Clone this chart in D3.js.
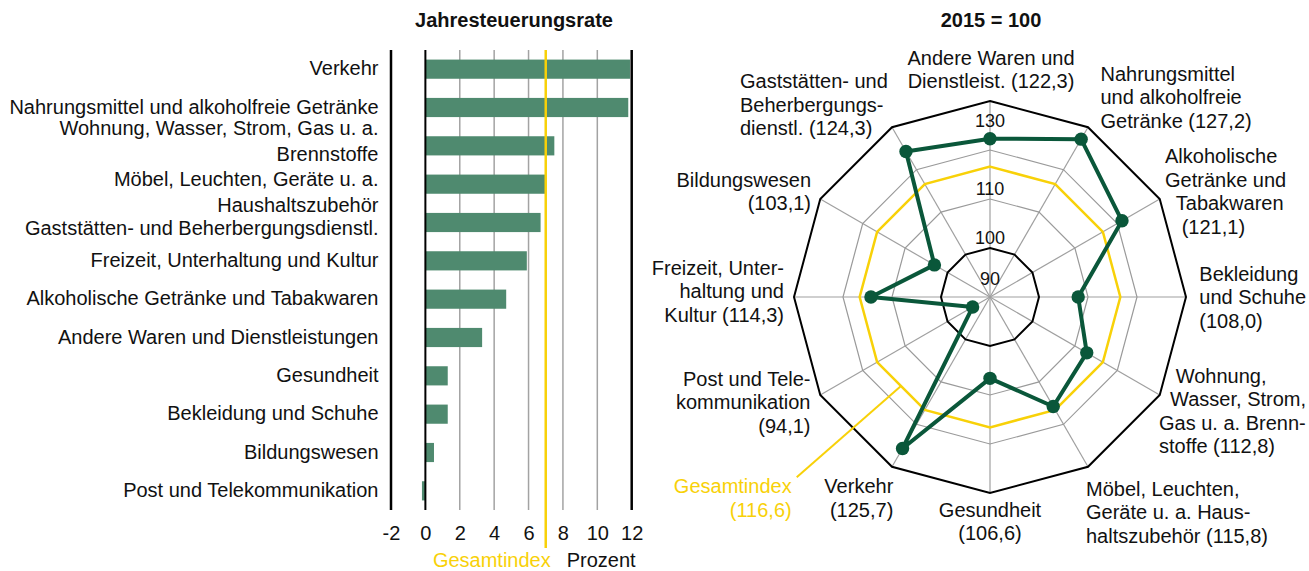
<!DOCTYPE html>
<html>
<head>
<meta charset="utf-8">
<script src="https://cdn.jsdelivr.net/npm/d3@7"></script>
<style>
  body { margin: 0; background: #fff; }
  text { font-family: "Liberation Sans", Arial, sans-serif; fill: #111; }
</style>
</head>
<body>
<script>
// ---- data: Jahresteuerungsrate (Prozent)
let barLabels = [
  ["Verkehr"],
  ["Nahrungsmittel und alkoholfreie Getränke"],
  ["Wohnung, Wasser, Strom, Gas u. a.", "Brennstoffe"],
  ["Möbel, Leuchten, Geräte u. a.", "Haushaltszubehör"],
  ["Gaststätten- und Beherbergungsdienstl."],
  ["Freizeit, Unterhaltung und Kultur"],
  ["Alkoholische Getränke und Tabakwaren"],
  ["Andere Waren und Dienstleistungen"],
  ["Gesundheit"],
  ["Bekleidung und Schuhe"],
  ["Bildungswesen"],
  ["Post und Telekommunikation"]
];
let barValues = [11.9, 11.8, 7.5, 7.0, 6.7, 5.9, 4.7, 3.3, 1.3, 1.3, 0.5, -0.2];
let totalRate = 7.0;
let xTicks = [-2, 0, 2, 4, 6, 8, 10, 12];

// ---- data: Index 2015 = 100
let radarLabels = [
  ["Andere Waren und", "Dienstleist. ({v})"],
  ["Nahrungsmittel", "und alkoholfreie", "Getränke ({v})"],
  ["Alkoholische", "Getränke und", "  Tabakwaren", "   ({v})"],
  ["Bekleidung", "und Schuhe", "({v})"],
  ["   Wohnung,", "  Wasser, Strom,", "Gas u. a. Brenn-", "stoffe ({v})"],
  ["Möbel, Leuchten,", "Geräte u. a. Haus-", "haltszubehör ({v})"],
  ["Gesundheit", "({v})"],
  ["Verkehr", "({v})"],
  ["Post und Tele-", "kommunikation", "({v})"],
  ["Freizeit, Unter-", "haltung und", "Kultur ({v})"],
  ["Bildungswesen", "({v})"],
  ["Gaststätten- und", "Beherbergungs-", "dienstl. ({v})"]
];
let radarValues = [122.3, 127.2, 121.1, 108.0, 112.8, 115.8, 106.6, 125.7, 94.1, 114.3, 103.1, 124.3];
let totalIndex = 116.6;
let rings = [100, 110, 120, 130];
let radarTicks = [90, 100, 110, 130];

let green = "#0a573a";
let barCol = "#4f8a6f";
let yellow = "#f8d108";
let fmt = v => v.toFixed(1).replace(".", ",");

const svg = d3.select("body").append("svg")
  .attr("width", 1309)
  .attr("height", 571);

// ================= left: bar chart =================
let x = d3.scaleLinear().domain([-2, 12]).range([391, 631.7]);
let y = d3.scaleBand()
  .domain(d3.range(barValues.length))
  .range([50, 510])
  .paddingInner(0.5)
  .paddingOuter(0.25);

svg.append("text")
  .attr("x", 514).attr("y", 27)
  .attr("text-anchor", "middle")
  .style("font-size", "20px").style("font-weight", "bold")
  .text("Jahresteuerungsrate");

// grid (grey) behind the bars
svg.selectAll(".grid")
  .data(xTicks.filter(t => t != 0 && t != -2 && t != 12))
  .enter().append("line")
  .attr("x1", d => x(d)).attr("x2", d => x(d))
  .attr("y1", 50).attr("y2", 510)
  .attr("stroke", "#a3a3a3").attr("stroke-width", 1.5);

svg.selectAll(".bar")
  .data(barValues)
  .enter().append("rect")
  .attr("x", d => x(Math.min(0, d)))
  .attr("y", (d, i) => y(i))
  .attr("width", d => Math.abs(x(d) - x(0)))
  .attr("height", y.bandwidth())
  .attr("fill", barCol);

// frame + zero line
svg.selectAll(".frame")
  .data([-2, 0, 12])
  .enter().append("line")
  .attr("x1", d => x(d)).attr("x2", d => x(d))
  .attr("y1", 50).attr("y2", 510)
  .attr("stroke", "#000").attr("stroke-width", d => d == 0 ? 2 : 2.5);

// Gesamtindex line
svg.append("line")
  .attr("x1", x(totalRate)).attr("x2", x(totalRate))
  .attr("y1", 50).attr("y2", 548)
  .attr("stroke", yellow).attr("stroke-width", 2.5);

// category labels (a few two-line ones are nudged apart)
let nudge = {2: -4, 3: 9, 4: 6};
barLabels.forEach(function (lines, i) {
  let mid = y(i) + y.bandwidth() / 2;
  let first = mid + 6 - (lines.length - 1) * 25.7 / 2 + (nudge[i] || 0);
  let t = svg.append("text")
    .attr("text-anchor", "end")
    .style("font-size", "20px");
  lines.forEach(function (l, j) {
    t.append("tspan").attr("x", 378.5).attr("y", first + j * 25.7).text(l);
  });
});

let xAxis = svg.append("g")
  .attr("transform", "translate(0,520)")
  .call(d3.axisBottom(x).tickValues(xTicks).tickSize(0).tickPadding(6).tickFormat(d => String(d)));
xAxis.select(".domain").remove();
xAxis.selectAll("text")
  .style("font-size", "20px")
  .style("font-family", "'Liberation Sans', Arial, sans-serif")
  .attr("fill", "#111");

svg.append("text")
  .attr("x", x(totalRate) + 5).attr("y", 566.7)
  .attr("text-anchor", "end")
  .style("font-size", "20px").style("fill", yellow)
  .text("Gesamtindex");
svg.append("text")
  .attr("x", x(totalRate) + 21).attr("y", 566.7)
  .style("font-size", "20px")
  .text("Prozent");

// ================= right: radar =================
let cx = 990, cy = 297;
let r = d3.scaleLinear().domain([90, 130]).range([0, 196]);
let n = radarValues.length;
let ang = i => i * 2 * Math.PI / n;
let px = (i, v) => cx + r(v) * Math.sin(ang(i));
let py = (i, v) => cy - r(v) * Math.cos(ang(i));

svg.append("text")
  .attr("x", 991).attr("y", 27)
  .attr("text-anchor", "middle")
  .style("font-size", "20px").style("font-weight", "bold")
  .text("2015 = 100");

let radar = svg.append("g").attr("transform", "translate(" + cx + "," + cy + ")");

// spokes
radar.selectAll(".spoke")
  .data(d3.range(n))
  .enter().append("line")
  .attr("x1", 0).attr("y1", 0)
  .attr("x2", i => r(130) * Math.sin(ang(i)))
  .attr("y2", i => -r(130) * Math.cos(ang(i)))
  .attr("stroke", "#a0a0a0").attr("stroke-width", 1.2);

let ringLine = d3.lineRadial()
  .angle((d, i) => ang(i))
  .radius(d => r(d))
  .curve(d3.curveLinearClosed);

radar.selectAll(".ring")
  .data(rings)
  .enter().append("path")
  .attr("d", v => ringLine(d3.range(n).map(() => v)))
  .attr("fill", "none")
  .attr("stroke", v => (v == 100 || v == 130) ? "#000" : "#9a9a9a")
  .attr("stroke-width", v => (v == 100 || v == 130) ? 2 : 1.2);

// Gesamtindex polygon
radar.append("path")
  .attr("d", ringLine(d3.range(n).map(() => totalIndex)))
  .attr("fill", "none")
  .attr("stroke", yellow).attr("stroke-width", 2.5);

// data polygon + dots
radar.append("path")
  .attr("d", ringLine(radarValues))
  .attr("fill", "none")
  .attr("stroke", green).attr("stroke-width", 4)
  .attr("stroke-linejoin", "round");

radar.selectAll(".dot")
  .data(radarValues)
  .enter().append("circle")
  .attr("cx", (d, i) => r(d) * Math.sin(ang(i)))
  .attr("cy", (d, i) => -r(d) * Math.cos(ang(i)))
  .attr("r", 6.7)
  .attr("fill", green);

// scale labels
let tickOff = {90: -12, 100: -4, 110: -4, 130: 26};
radar.selectAll(".tick")
  .data(radarTicks)
  .enter().append("text")
  .attr("x", 0)
  .attr("y", d => -r(d) + tickOff[d])
  .attr("text-anchor", "middle")
  .style("font-size", "18px")
  .text(d => d);

// category labels (first baseline, anchor)
let labelPos = [
  [991, 65, "middle"], [1100.5, 80.7, "start"], [1165, 163.3, "start"], [1199.3, 280.7, "start"],
  [1159, 382.7, "start"], [1086, 496, "start"], [990, 516.5, "middle"], [893.3, 493.3, "end"],
  [810.5, 386, "end"], [784, 275, "end"], [811, 186.7, "end"], [740, 88.3, "start"]
];
radarLabels.forEach(function (lines, i) {
  let p = labelPos[i];
  let t = svg.append("text")
    .attr("text-anchor", p[2])
    .style("font-size", "20px")
    .style("white-space", "pre");
  lines.forEach(function (l, j) {
    t.append("tspan")
      .attr("x", p[0]).attr("y", p[1] + j * 23.4)
      .text(l.replace("{v}", fmt(radarValues[i])));
  });
});

// Gesamtindex label + leader
let gx = 791.7, gy = 493.3;
let sx = (px(7, totalIndex) + px(8, totalIndex)) / 2;
let sy = (py(7, totalIndex) + py(8, totalIndex)) / 2;
svg.append("line")
  .attr("x1", sx).attr("y1", sy)
  .attr("x2", gx + 5).attr("y2", gy - 16)
  .attr("stroke", yellow).attr("stroke-width", 2);
let gt = svg.append("text")
  .attr("text-anchor", "end")
  .style("font-size", "20px").style("fill", yellow);
gt.append("tspan").attr("x", gx).attr("y", gy).text("Gesamtindex");
gt.append("tspan").attr("x", gx).attr("y", gy + 23.4).text("(" + fmt(totalIndex) + ")");
</script>
</body>
</html>
